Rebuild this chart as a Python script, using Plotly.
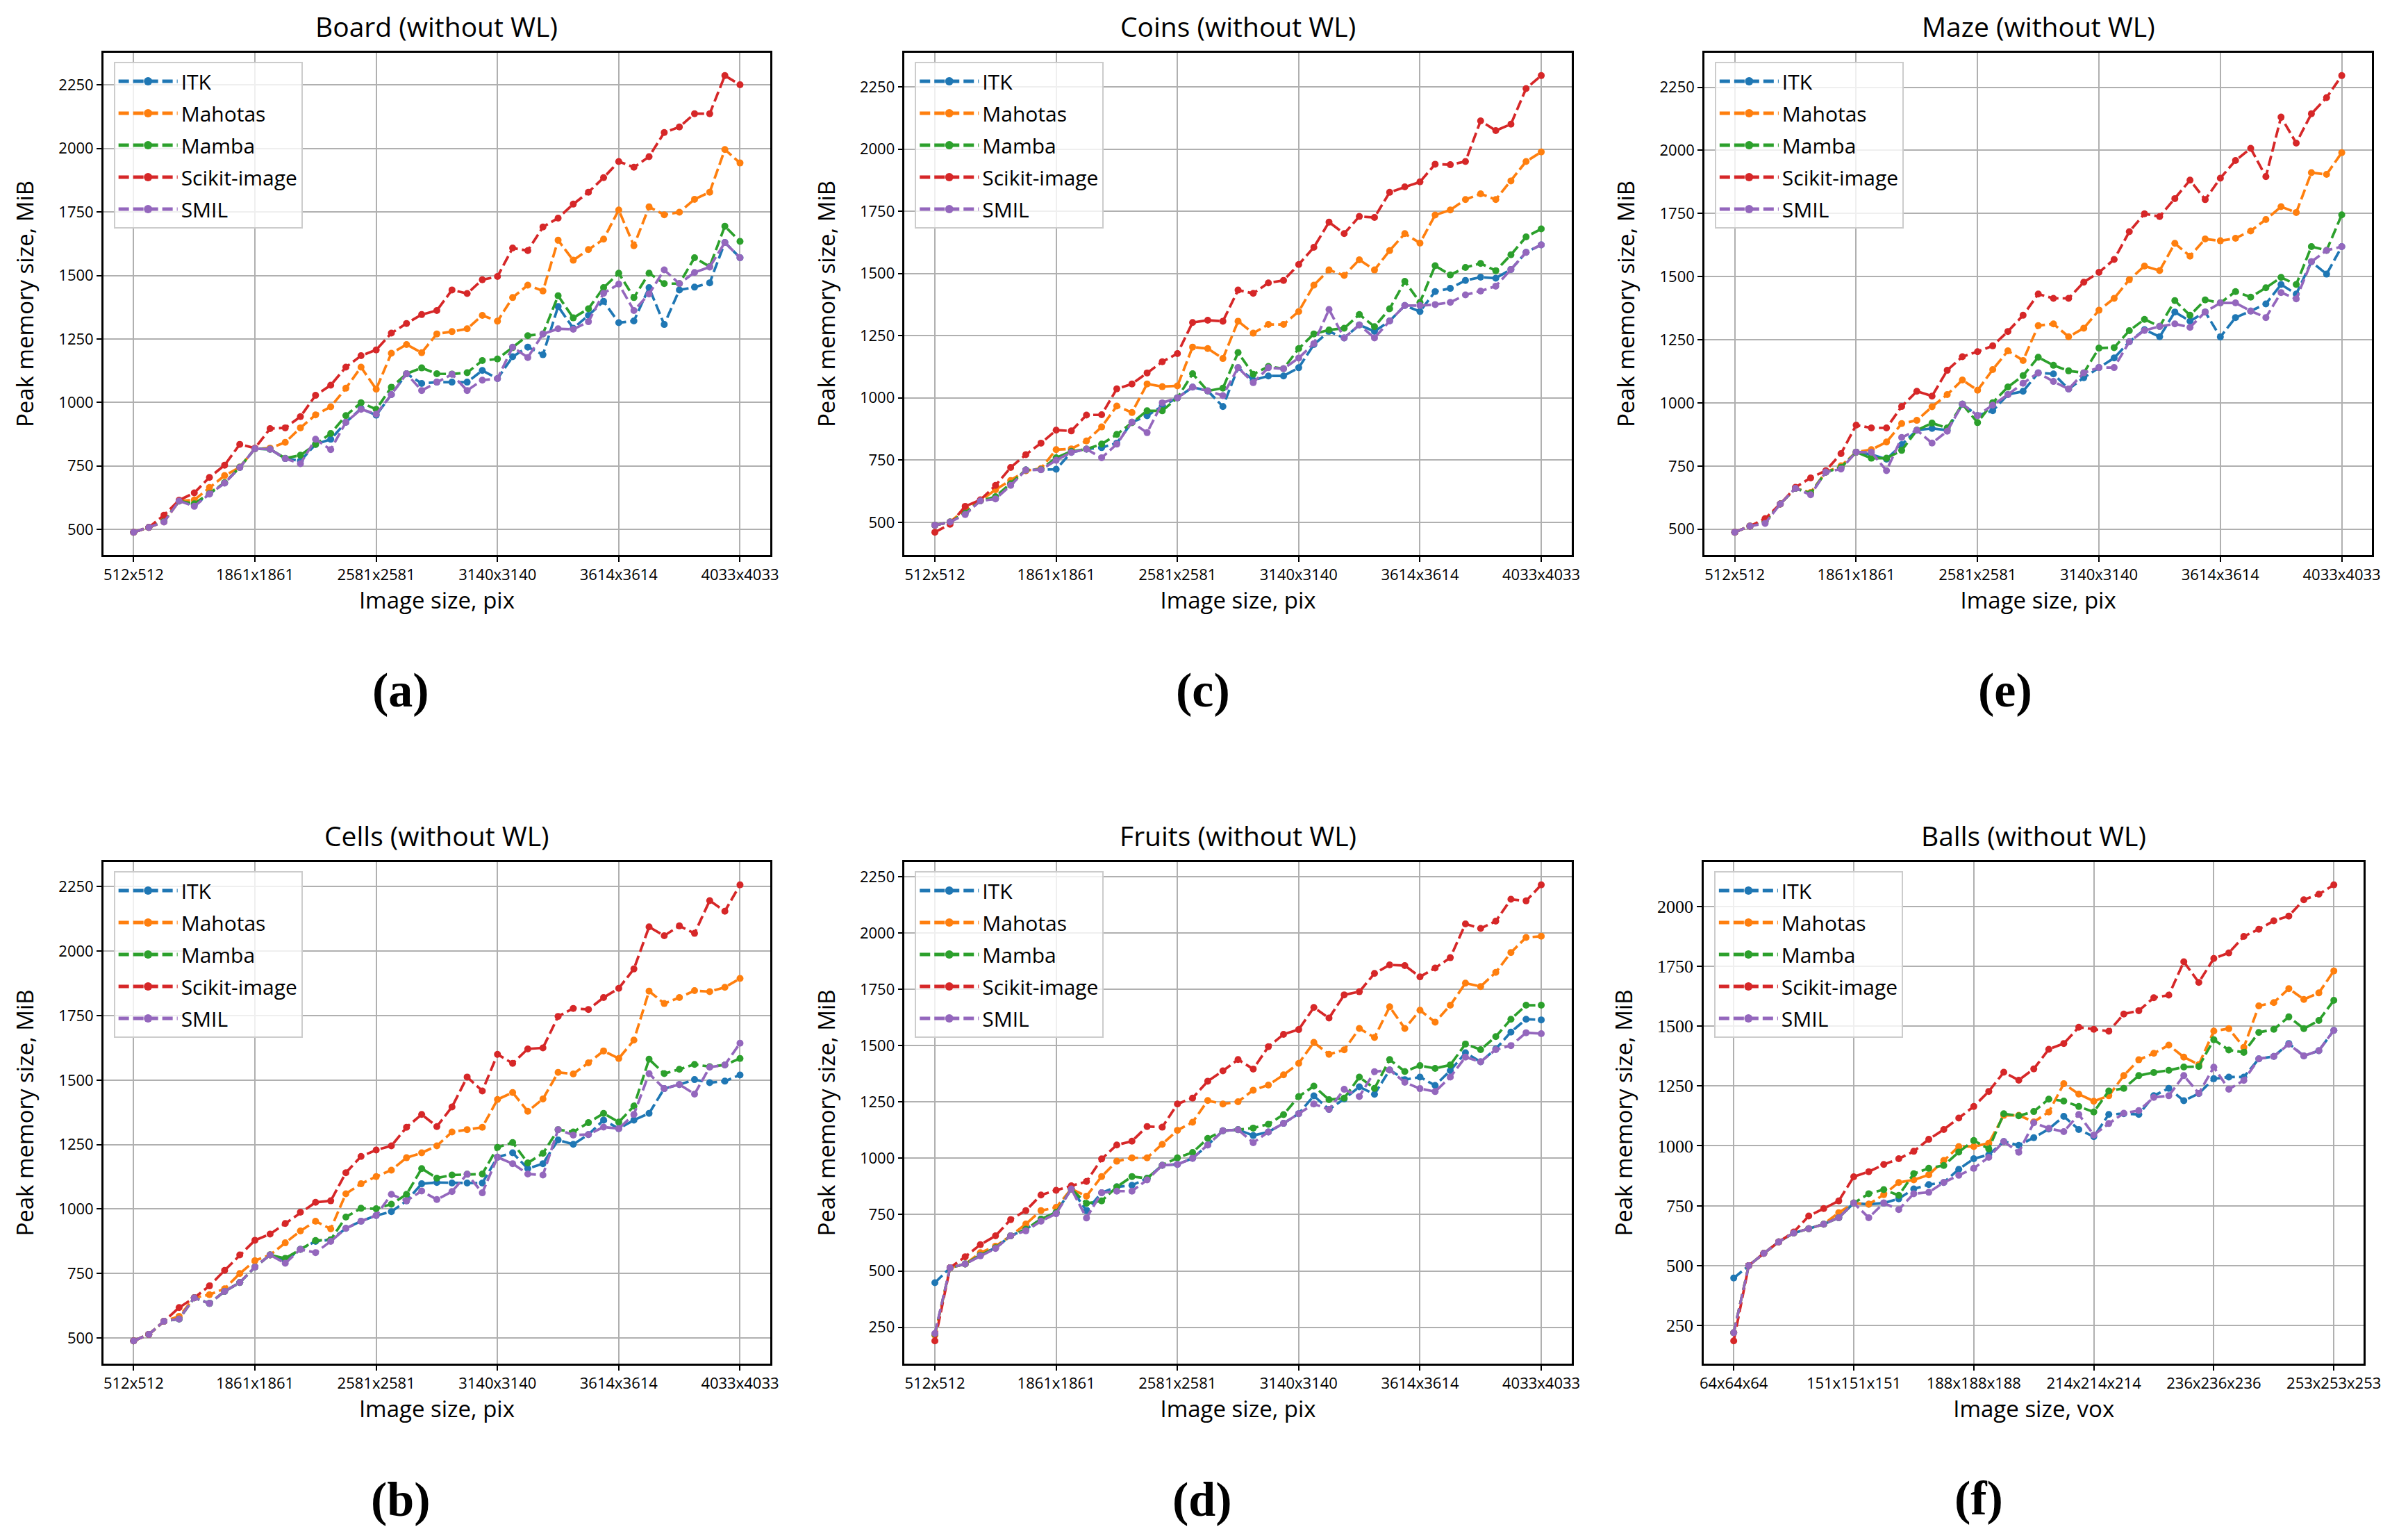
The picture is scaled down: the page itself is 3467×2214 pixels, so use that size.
import plotly.graph_objects as go

# ---------------- data ----------------
series_names = ["ITK", "Mahotas", "Mamba", "Scikit-image", "SMIL"]
colors = ["#1f77b4", "#ff7f0e", "#2ca02c", "#d62728", "#9467bd"]

pix_ticks = ["512x512", "1861x1861", "2581x2581", "3140x3140", "3614x3614", "4033x4033"]
vox_ticks = ["64x64x64", "151x151x151", "188x188x188", "214x214x214", "236x236x236", "253x253x253"]

board_itk = [489, 508, 532, 612, 597, 640, 683, 744, 818, 816, 779, 770, 835, 855, 922, 976, 950, 1031, 1113, 1075, 1080,
             1080, 1080, 1126, 1094, 1180, 1218, 1188, 1378, 1292, 1343, 1398, 1314, 1321, 1452, 1307, 1443, 1454, 1471, 1630, 1570]
board_mahotas = [489, 508, 530, 612, 616, 665, 712, 745, 818, 820, 843, 900, 951, 983, 1056, 1139, 1052, 1194, 1228, 1196, 1270,
                 1279, 1290, 1343, 1320, 1413, 1462, 1439, 1639, 1560, 1602, 1643, 1758, 1617, 1770, 1739, 1749, 1800, 1828, 1996, 1943]
board_mamba = [489, 508, 533, 612, 601, 641, 684, 745, 818, 816, 780, 792, 835, 878, 948, 999, 973, 1060, 1113, 1136, 1113,
               1112, 1117, 1165, 1171, 1216, 1263, 1270, 1420, 1333, 1369, 1452, 1509, 1413, 1509, 1468, 1468, 1570, 1535, 1694, 1634]
board_skimage = [489, 508, 556, 615, 644, 705, 753, 835, 820, 897, 900, 944, 1028, 1068, 1139, 1184, 1207, 1273, 1311, 1346, 1362,
                 1443, 1429, 1483, 1496, 1608, 1598, 1691, 1726, 1781, 1828, 1885, 1949, 1926, 1968, 2063, 2085, 2137, 2137, 2287, 2251]
board_smil = [489, 508, 529, 612, 591, 639, 682, 744, 818, 816, 779, 759, 855, 814, 922, 973, 954, 1031, 1113, 1047, 1080,
              1111, 1047, 1088, 1094, 1218, 1177, 1270, 1290, 1288, 1318, 1430, 1466, 1362, 1427, 1522, 1468, 1512, 1533, 1630, 1570]

coins_itk = [488, 501, 538, 586, 596, 655, 710, 712, 713, 781, 794, 800, 818, 902, 928, 967, 1000, 1043, 1028, 965, 1121,
             1071, 1088, 1088, 1121, 1214, 1267, 1241, 1293, 1267, 1309, 1371, 1347, 1427, 1440, 1472, 1485, 1481, 1516, 1585, 1615]
coins_mahotas = [488, 501, 551, 586, 631, 668, 707, 716, 792, 795, 827, 883, 967, 941, 1056, 1045, 1048, 1204, 1198, 1158, 1308,
                 1260, 1295, 1295, 1347, 1453, 1514, 1492, 1555, 1514, 1592, 1660, 1622, 1735, 1755, 1797, 1820, 1797, 1872, 1950, 1988]
coins_mamba = [488, 501, 538, 586, 603, 655, 710, 712, 759, 785, 794, 814, 853, 900, 948, 948, 1000, 1097, 1028, 1039, 1182,
               1095, 1126, 1117, 1198, 1257, 1273, 1280, 1335, 1286, 1358, 1468, 1384, 1531, 1494, 1524, 1540, 1511, 1575, 1647, 1679]
coins_skimage = [460, 492, 564, 590, 648, 720, 772, 818, 870, 867, 931, 932, 1036, 1056, 1100, 1145, 1178, 1303, 1312, 1308, 1433,
                 1420, 1462, 1472, 1536, 1605, 1706, 1660, 1729, 1725, 1826, 1848, 1868, 1939, 1937, 1950, 2113, 2074, 2100, 2243, 2295]
coins_smil = [488, 501, 531, 586, 594, 648, 710, 711, 749, 781, 794, 759, 814, 902, 860, 980, 1000, 1043, 1028, 1009, 1121,
              1061, 1121, 1117, 1160, 1218, 1355, 1241, 1293, 1241, 1309, 1371, 1371, 1375, 1384, 1414, 1429, 1449, 1516, 1585, 1615]

maze_itk = [488, 512, 530, 600, 662, 642, 726, 745, 805, 796, 777, 835, 892, 899, 892, 995, 950, 969, 1033, 1046, 1119,
            1115, 1055, 1100, 1140, 1178, 1242, 1290, 1262, 1360, 1324, 1360, 1261, 1338, 1364, 1392, 1469, 1431, 1559, 1510, 1619]
maze_mahotas = [488, 512, 530, 600, 662, 645, 726, 751, 805, 815, 845, 918, 931, 985, 1033, 1091, 1050, 1132, 1206, 1168, 1306,
                1313, 1262, 1296, 1367, 1414, 1488, 1542, 1524, 1632, 1581, 1649, 1642, 1652, 1681, 1726, 1777, 1754, 1912, 1905, 1991]
maze_mamba = [488, 512, 530, 600, 662, 642, 726, 745, 805, 781, 781, 812, 892, 920, 901, 995, 922, 1001, 1063, 1108, 1181,
              1149, 1127, 1119, 1217, 1219, 1286, 1331, 1303, 1405, 1347, 1408, 1396, 1441, 1419, 1456, 1497, 1469, 1619, 1604, 1745]
maze_skimage = [488, 512, 542, 600, 666, 703, 732, 799, 912, 901, 901, 986, 1046, 1027, 1129, 1183, 1203, 1226, 1283, 1347, 1431,
                1414, 1414, 1478, 1517, 1568, 1678, 1749, 1738, 1809, 1882, 1805, 1890, 1960, 2008, 1896, 2132, 2029, 2145, 2209, 2296]
maze_smil = [488, 512, 523, 600, 662, 636, 726, 738, 805, 805, 732, 863, 892, 841, 888, 995, 950, 991, 1033, 1078, 1119,
             1085, 1055, 1119, 1140, 1140, 1242, 1287, 1303, 1313, 1299, 1360, 1396, 1396, 1364, 1338, 1437, 1412, 1559, 1604, 1619]

cells_itk = [489, 514, 565, 574, 656, 634, 681, 715, 775, 822, 800, 844, 875, 881, 925, 953, 975, 990, 1032, 1098, 1103,
             1101, 1101, 1101, 1201, 1218, 1157, 1176, 1268, 1251, 1289, 1345, 1312, 1345, 1371, 1467, 1483, 1502, 1490, 1496, 1520]
cells_mahotas = [489, 514, 565, 584, 656, 668, 691, 750, 800, 822, 869, 915, 953, 923, 1059, 1098, 1126, 1151, 1199, 1218, 1245,
                 1299, 1308, 1317, 1425, 1452, 1379, 1427, 1530, 1524, 1567, 1613, 1584, 1655, 1845, 1797, 1820, 1847, 1843, 1860, 1894]
cells_mamba = [489, 514, 565, 574, 656, 634, 681, 715, 775, 822, 809, 844, 878, 881, 969, 1003, 1001, 1019, 1057, 1157, 1120,
               1132, 1135, 1136, 1239, 1258, 1179, 1216, 1308, 1299, 1335, 1371, 1337, 1399, 1581, 1525, 1542, 1561, 1552, 1559, 1584]
cells_skimage = [489, 514, 565, 618, 656, 702, 762, 822, 879, 903, 944, 988, 1026, 1032, 1141, 1204, 1229, 1245, 1317, 1367, 1320,
                 1396, 1512, 1458, 1600, 1565, 1621, 1625, 1747, 1778, 1774, 1820, 1856, 1931, 2094, 2060, 2098, 2069, 2196, 2155, 2257]
cells_smil = [489, 514, 565, 574, 656, 634, 681, 715, 775, 822, 790, 844, 831, 875, 925, 953, 975, 1057, 1032, 1070, 1037,
              1068, 1135, 1063, 1201, 1176, 1136, 1132, 1308, 1287, 1289, 1318, 1312, 1367, 1525, 1467, 1483, 1446, 1550, 1559, 1643]

fruits_itk = [448, 514, 531, 570, 603, 656, 685, 730, 760, 864, 768, 847, 873, 880, 911, 969, 973, 1000, 1059, 1122, 1127,
              1101, 1117, 1155, 1198, 1277, 1217, 1263, 1317, 1284, 1392, 1349, 1360, 1323, 1389, 1468, 1428, 1485, 1560, 1617, 1614]
fruits_mahotas = [215, 514, 531, 581, 610, 656, 708, 768, 782, 864, 832, 919, 987, 1002, 1002, 1062, 1124, 1160, 1256, 1241, 1251,
                  1302, 1325, 1370, 1421, 1514, 1461, 1481, 1576, 1536, 1672, 1576, 1657, 1604, 1679, 1777, 1762, 1825, 1913, 1980, 1985]
fruits_mamba = [220, 514, 531, 570, 603, 656, 685, 730, 760, 864, 800, 811, 873, 919, 911, 969, 1002, 1026, 1088, 1122, 1127,
                1134, 1151, 1194, 1274, 1320, 1260, 1267, 1360, 1310, 1438, 1385, 1411, 1399, 1414, 1507, 1482, 1540, 1617, 1679, 1679]
fruits_skimage = [190, 514, 563, 617, 656, 728, 768, 837, 858, 878, 897, 997, 1059, 1076, 1141, 1138, 1241, 1267, 1342, 1388, 1438,
                  1396, 1495, 1550, 1571, 1669, 1622, 1725, 1739, 1820, 1858, 1855, 1805, 1844, 1890, 2040, 2020, 2052, 2149, 2142, 2213]
fruits_smil = [223, 514, 531, 567, 600, 656, 678, 721, 754, 864, 735, 847, 854, 854, 904, 969, 973, 1000, 1059, 1122, 1127,
               1069, 1117, 1155, 1198, 1241, 1217, 1306, 1274, 1384, 1392, 1337, 1309, 1296, 1360, 1449, 1428, 1482, 1500, 1557, 1553]

balls_itk = [448, 500, 551, 599, 636, 654, 673, 700, 761, 756, 761, 779, 820, 838, 847, 902, 946, 963, 1018, 1002, 1034,
             1070, 1123, 1068, 1038, 1131, 1134, 1131, 1209, 1240, 1188, 1218, 1280, 1287, 1287, 1363, 1373, 1427, 1375, 1397, 1482]
balls_mahotas = [220, 500, 551, 599, 636, 654, 673, 721, 761, 756, 796, 847, 858, 879, 939, 997, 997, 1011, 1127, 1127, 1100,
                 1141, 1259, 1216, 1186, 1209, 1293, 1359, 1386, 1420, 1370, 1339, 1479, 1489, 1411, 1584, 1598, 1656, 1611, 1638, 1730]
balls_mamba = [220, 500, 551, 599, 636, 654, 673, 700, 761, 800, 817, 793, 884, 906, 918, 974, 1022, 987, 1134, 1125, 1143,
               1195, 1187, 1164, 1141, 1229, 1240, 1293, 1306, 1315, 1329, 1331, 1443, 1400, 1390, 1473, 1486, 1538, 1489, 1523, 1607]
balls_skimage = [186, 500, 551, 599, 640, 707, 738, 770, 871, 892, 922, 946, 977, 1027, 1068, 1116, 1164, 1227, 1307, 1274, 1321,
                 1403, 1427, 1495, 1486, 1478, 1550, 1564, 1618, 1629, 1768, 1682, 1782, 1805, 1874, 1904, 1939, 1959, 2027, 2050, 2089]
balls_smil = [220, 500, 551, 599, 636, 654, 673, 700, 761, 700, 761, 734, 800, 806, 847, 877, 906, 952, 1018, 973, 1096,
              1073, 1059, 1131, 1045, 1093, 1136, 1147, 1202, 1209, 1293, 1219, 1328, 1236, 1273, 1363, 1373, 1424, 1375, 1397, 1482]

# ---------------- layout helpers ----------------
W, H = 3467, 2214
SANS = "Open Sans"
SERIF = "Liberation Serif"

panels = [
    dict(title="Board (without WL)", data=[board_itk, board_mahotas, board_mamba, board_skimage, board_smil],
         ticks=pix_ticks, xlabel="Image size, pix", box=(136, 1105, 68, 791), label="(a)", lpos=(568, 985), serif=False),
    dict(title="Coins (without WL)", data=[coins_itk, coins_mahotas, coins_mamba, coins_skimage, coins_smil],
         ticks=pix_ticks, xlabel="Image size, pix", box=(1300, 2269, 68, 791), label="(c)", lpos=(1734, 985), serif=False),
    dict(title="Maze (without WL)", data=[maze_itk, maze_mahotas, maze_mamba, maze_skimage, maze_smil],
         ticks=pix_ticks, xlabel="Image size, pix", box=(2462, 3432, 68, 791), label="(e)", lpos=(2899, 985), serif=False),
    dict(title="Cells (without WL)", data=[cells_itk, cells_mahotas, cells_mamba, cells_skimage, cells_smil],
         ticks=pix_ticks, xlabel="Image size, pix", box=(136, 1105, 1233, 1955), label="(b)", lpos=(568, 2150), serif=False),
    dict(title="Fruits (without WL)", data=[fruits_itk, fruits_mahotas, fruits_mamba, fruits_skimage, fruits_smil],
         ticks=pix_ticks, xlabel="Image size, pix", box=(1300, 2269, 1233, 1955), label="(d)", lpos=(1732, 2150), serif=False),
    dict(title="Balls (without WL)", data=[balls_itk, balls_mahotas, balls_mamba, balls_skimage, balls_smil],
         ticks=vox_ticks, xlabel="Image size, vox", box=(2461, 3420, 1233, 1955), label="(f)", lpos=(2861, 2148), serif=True),
]

fig = go.Figure()
layout = dict(width=W, height=H, margin=dict(l=0, r=0, t=0, b=0),
              paper_bgcolor="white", plot_bgcolor="white", showlegend=True,
              font=dict(family=SANS, color="black"))
annotations = []

for k, p in enumerate(panels, start=1):
    xid = "x" if k == 1 else f"x{k}"
    yid = "y" if k == 1 else f"y{k}"
    lid = "legend" if k == 1 else f"legend{k}"
    n = len(p["data"][0])
    xs = list(range(n))
    for name, col, ys in zip(series_names, colors, p["data"]):
        fig.add_trace(go.Scatter(
            x=xs, y=ys, name=name, mode="lines+markers", xaxis=xid, yaxis=yid, legend=lid,
            legendgroup=f"{k}-{name}",
            line=dict(color=col, width=3.7, dash="15px,6px"),
            marker=dict(color=col, size=10, line=dict(width=0)),
        ))
    allv = [v for s in p["data"] for v in s]
    lo, hi = min(allv), max(allv)
    pad = 0.05 * (hi - lo)
    xpad = 0.05 * (n - 1)
    l, r, t, b = p["box"]
    step = (n - 1) // (len(p["ticks"]) - 1)
    axis_common = dict(showline=True, mirror=True, linecolor="black", linewidth=2.5,
                       showgrid=True, gridcolor="#b0b0b0", gridwidth=2,
                       ticks="outside", ticklen=7, tickwidth=2, tickcolor="black", zeroline=False)
    layout["xaxis" if k == 1 else f"xaxis{k}"] = dict(
        domain=[l / W, r / W], anchor=yid, range=[-xpad, n - 1 + xpad],
        tickvals=list(range(0, n, step)), ticktext=p["ticks"],
        tickfont=dict(family=SANS, size=22),
        title=dict(text=p["xlabel"], font=dict(family=SANS, size=33), standoff=6),
        **axis_common)
    layout["yaxis" if k == 1 else f"yaxis{k}"] = dict(
        domain=[1 - b / H, 1 - t / H], anchor=xid, range=[lo - pad, hi + pad],
        tick0=0, dtick=250,
        tickfont=dict(family=SERIF if p["serif"] else SANS, size=26 if p["serif"] else 22),
        title=dict(text="Peak memory size, MiB", font=dict(family=SANS, size=33), standoff=26),
        **axis_common)
    layout[lid] = dict(x=(l + 15) / W, y=1 - (t + 13) / H, xanchor="left", yanchor="top",
                       bgcolor="rgba(255,255,255,0.8)", bordercolor="#cccccc", borderwidth=2,
                       font=dict(family=SANS, size=30), itemsizing="constant", itemwidth=85,
                       tracegroupgap=4)
    annotations.append(dict(text=p["title"], x=(l + r) / 2 / W, y=1 - (t - 10) / H, xref="paper", yref="paper",
                            xanchor="center", yanchor="bottom", showarrow=False,
                            font=dict(family=SANS, size=39, color="black")))
    annotations.append(dict(text="<b>" + p["label"] + "</b>", x=p["lpos"][0] / W, y=1 - p["lpos"][1] / H,
                            xref="paper", yref="paper", xanchor="center", yanchor="middle", showarrow=False,
                            font=dict(family=SERIF, size=70, color="black")))

layout["annotations"] = annotations
fig.update_layout(**layout)
fig.write_html("out.html")
